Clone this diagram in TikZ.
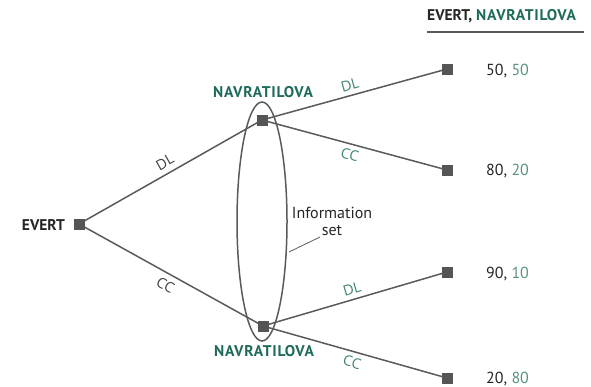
\documentclass[tikz,border=0pt]{standalone}
\usepackage{fontspec}
\setmainfont{PT Sans}
\newfontfamily\widebold[LetterSpace=5]{PT Sans}
\newfontfamily\movefont{Open Sans}
\usetikzlibrary{shapes.geometric}
\begin{document}
\definecolor{edgegray}{HTML}{5A5A5A}
\definecolor{nodegray}{HTML}{555555}
\definecolor{navgreen}{HTML}{1E6B5A}
\definecolor{movegreen}{HTML}{3F8472}
\definecolor{paygreen}{HTML}{5A917F}
\begin{tikzpicture}[x=1pt,y=-1pt,
  decision/.style={draw=nodegray,fill=nodegray,minimum size=10pt,inner sep=0pt,rectangle},
  branch/.style={draw=edgegray,line width=1.5pt},
  player/.style={font=\fontsize{15.5}{17}\selectfont\bfseries},
  navname/.style={font=\fontsize{15.5}{17}\selectfont\widebold\bfseries,text=navgreen},
  move/.style={font=\fontsize{14.5}{16}\selectfont\movefont,inner sep=0.5pt},
  payoff/.style={font=\fontsize{16}{18}\selectfont,anchor=west,text=black!85}]
\useasboundingbox (0,0) rectangle (591,387);

% decision nodes
\node[decision] (e)  at (79,224) {};
\node[decision] (nu) at (262,120) {};
\node[decision] (nl) at (263,326) {};
\node[decision] (t1) at (447,69) {};
\node[decision] (t2) at (447,170) {};
\node[decision] (t3) at (447,272) {};
\node[decision] (t4) at (447,378) {};

% information set
\node[draw=edgegray,line width=1.5pt,ellipse,minimum width=50pt,minimum height=239pt,inner sep=0pt] (info) at (262,221.5) {};

% branches
\draw[branch] (e.center) -- node[move,text=black!75,sloped,above=5pt,pos=0.5] {DL} (nu.center);
\draw[branch] (e.center) -- node[move,text=black!75,sloped,below=5pt,pos=0.5] {CC} (nl.center);
\draw[branch] (nu.center) -- node[move,text=movegreen,sloped,above=4pt,pos=0.49] {DL} (t1.center);
\draw[branch] (nu.center) -- node[move,text=movegreen,sloped,below=4pt,pos=0.49] {CC} (t2.center);
\draw[branch] (nl.center) -- node[move,text=movegreen,sloped,above=4pt,pos=0.5] {DL} (t3.center);
\draw[branch] (nl.center) -- node[move,text=movegreen,sloped,below=4pt,pos=0.5] {CC} (t4.center);
\node[decision] at (e) {};
\node[decision] at (nu) {};
\node[decision] at (nl) {};
\foreach \t in {t1,t2,t3,t4} \node[decision] at (\t) {};

% player labels
\node[player,text=black!85,anchor=east,inner sep=0pt] (pe) at (65,225) {EVERT};
\node[navname] (pu) at (263,92) {NAVRATILOVA};
\node[navname] (pl) at (264,351) {NAVRATILOVA};

% information set label
\node[font=\fontsize{16}{17}\selectfont,align=center,inner sep=1pt,text=black!85] (il) at (332,221) {Information\\set};
\coordinate (ia) at (289,252);
\draw[edgegray,line width=0.8pt] (ia) -- (320,237);

% payoffs
\node[payoff,inner sep=0pt] (p1) at (486,71) {50, \textcolor{paygreen}{50}};
\node[payoff,inner sep=0pt] (p2) at (486,171) {80, \textcolor{paygreen}{20}};
\node[payoff,inner sep=0pt] (p3) at (486,274) {90, \textcolor{paygreen}{10}};
\node[payoff,inner sep=0pt] (p4) at (486,379) {20, \textcolor{paygreen}{80}};

% payoff header
\node[player,anchor=west,inner sep=0pt] (hd) at (427,16) {\textcolor{black!85}{EVERT,} {\widebold\textcolor{navgreen}{NAVRATILOVA}}};
\coordinate (h1) at (427,32);
\coordinate (h2) at (584,32);
\draw[edgegray,line width=2pt] (h1) -- (h2);
\end{tikzpicture}
\end{document}
